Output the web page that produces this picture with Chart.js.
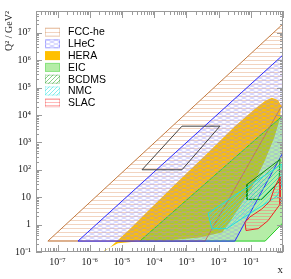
<!DOCTYPE html>
<html>
<head>
<meta charset="utf-8">
<script src="https://cdn.jsdelivr.net/npm/chart.js@4.4.1/dist/chart.umd.min.js"></script>
<style>
  html, body { margin: 0; padding: 0; background: #fff; }
</style>
</head>
<body>
<canvas id="chart" width="291" height="279"></canvas>
<script>
// axis ticks
const xTicks = [1e-7, 1e-6, 1e-5, 1e-4, 1e-3, 1e-2, 1e-1];
const yTicks = [0.1, 1, 10, 1e2, 1e3, 1e4, 1e5, 1e6, 1e7];

// kinematic regions, polygon corners in (x, Q2)
const fccX   = [5.0e-8, 1, 1, 3.8e-3];
const fccQ2  = [0.25, 2.1e7, 2.6e4, 0.25];
const lhecX  = [4.3e-7, 1, 1, 0.032];
const lhecQ2 = [0.25, 1.55e6, 430, 0.25];
const heraX  = [1.45e-6, 4.3e-6, 1.8e-5, 7.4e-5, 4.4e-4, 3.8e-3, 0.032, 0.135, 0.28, 0.45, 0.70, 0.87,
                0.81, 0.53, 0.26, 0.11, 0.046, 0.022, 0.013, 2.6e-3, 3.1e-4, 3.6e-5, 7.5e-6, 3.0e-6];
const heraQ2 = [0.061, 0.15, 0.71, 3.7, 29, 330, 3900, 1.7e4, 3.3e4, 4.2e4, 3.5e4, 2.2e4,
                7600, 1450, 190, 24, 4.7, 1.2, 0.52, 0.34, 0.27, 0.245, 0.21, 0.118];
const eicX   = [3.6e-5, 1, 1, 0.28];
const eicQ2  = [0.25, 9600, 1.17, 0.25];
const bcdmsX  = [0.076, 0.076, 0.22, 0.75, 0.81];
const bcdmsQ2 = [29, 8.3, 8.3, 36, 240];
const nmcX   = [4.7e-3, 6.2e-3, 0.018, 0.057, 0.156, 0.65, 0.93, 0.93, 0.39];
const nmcQ2  = [2.6, 0.71, 0.71, 1.76, 3.7, 10.7, 29, 160, 83];
const slacX  = [0.81, 0.81, 0.34, 0.17, 0.071, 0.066, 0.094, 0.22, 0.39, 0.56];
const slacQ2 = [55, 5.5, 1.38, 0.71, 0.61, 1.2, 1.9, 3.7, 7.1, 24];
const boxX   = [4.2e-5, 7.3e-4, 0.011, 7.3e-4];
const boxQ2  = [100, 100, 3900, 3900];

const canvas = document.getElementById('chart');
const ctx = canvas.getContext('2d');

function polygon(xs, qs) {
  const pts = xs.map((x, i) => ({ x: x, y: qs[i] }));
  pts.push(pts[0]);
  return pts;
}

function hatch(w, h, color, draw) {
  const c = document.createElement('canvas');
  c.width = w; c.height = h;
  const g = c.getContext('2d');
  g.strokeStyle = color;
  g.lineWidth = 1;
  g.beginPath();
  draw(g, w, h);
  g.stroke();
  return ctx.createPattern(c, 'repeat');
}

const horiz = (g, w, h) => { g.moveTo(0, 0.5); g.lineTo(w, 0.5); };
const diag = (g, w, h) => { g.moveTo(0, h); g.lineTo(w, 0); g.moveTo(-1, 1); g.lineTo(1, -1); g.moveTo(w - 1, h + 1); g.lineTo(w + 1, h - 1); };
const mesh = (g, w, h) => { g.moveTo(0, 0); g.lineTo(w, h); g.moveTo(0, h); g.lineTo(w, 0); };

const fccFill   = hatch(4, 4, 'rgba(226,160,115,0.45)', horiz);
const lhecFill  = hatch(8, 4, 'rgba(140,140,255,0.4)', mesh);
const bcdmsFill = hatch(4, 4, 'rgba(60,180,60,0.6)', diag);
const nmcFill   = hatch(4, 4, 'rgba(60,225,225,0.6)', diag);
const slacFill  = hatch(3, 3, 'rgba(255,120,120,0.5)', horiz);

function region(label, xs, qs, border, fill, order, extra) {
  return Object.assign({
    label: label,
    data: polygon(xs, qs),
    showLine: true,
    fill: 'shape',
    borderColor: border,
    backgroundColor: fill,
    borderWidth: 1,
    pointRadius: 0,
    tension: 0,
    order: order
  }, extra || {});
}

const datasets = [
  region('FCC-he', fccX, fccQ2, '#c27a40', fccFill, 6),
  region('LHeC', lhecX, lhecQ2, '#2a2aff', lhecFill, 5),
  region('HERA', heraX, heraQ2, 'rgba(0,0,0,0)', '#ffc000', 8, { borderWidth: 0, clip: false }),
  region('EIC', eicX, eicQ2, '#22cc22', 'rgba(90,215,60,0.45)', 7),
  region('BCDMS', bcdmsX, bcdmsQ2, '#108a10', bcdmsFill, 4),
  region('NMC', nmcX, nmcQ2, '#20e0e0', nmcFill, 3),
  region('SLAC', slacX, slacQ2, '#ee2020', slacFill, 2),
  region('', boxX, boxQ2, '#404040', 'rgba(0,0,0,0)', 1)
];

const sup = { '-': '\u207B', '0': '\u2070', '1': '\u00B9', '2': '\u00B2', '3': '\u00B3', '4': '\u2074', '5': '\u2075', '6': '\u2076', '7': '\u2077', '8': '\u2078', '9': '\u2079' };
function powLabel(v) {
  const e = Math.round(Math.log10(v));
  if (e === 0) return '1';
  if (e === 1) return '10';
  return '10' + String(e).split('').map(c => sup[c]).join('');
}

// ROOT-style frame with inward ticks and the x title in the corner
const rootFrame = {
  id: 'rootFrame',
  afterDraw(chart) {
    const { ctx, chartArea: a, scales: { x, y } } = chart;
    ctx.save();
    ctx.strokeStyle = '#9a9a9a';
    ctx.lineWidth = 1;
    ctx.strokeRect(a.left + 0.5, a.top + 0.5, a.right - a.left - 1, a.bottom - a.top - 1);
    ctx.beginPath();
    for (let e = -9; e <= 0; e++) {
      for (let m = 1; m < 10; m++) {
        const v = m * Math.pow(10, e);
        if (v >= x.min && v <= x.max) {
          const px = Math.round(x.getPixelForValue(v)) + 0.5;
          const len = m === 1 ? 7 : 4;
          ctx.moveTo(px, a.bottom); ctx.lineTo(px, a.bottom - len);
          ctx.moveTo(px, a.top); ctx.lineTo(px, a.top + len);
        }
      }
    }
    for (let e = -1; e <= 8; e++) {
      for (let m = 1; m < 10; m++) {
        const v = m * Math.pow(10, e);
        if (v >= y.min && v <= y.max) {
          const py = Math.round(y.getPixelForValue(v)) + 0.5;
          const len = m === 1 ? 6 : 3;
          ctx.moveTo(a.left, py); ctx.lineTo(a.left + len, py);
          ctx.moveTo(a.right, py); ctx.lineTo(a.right - len, py);
        }
      }
    }
    ctx.stroke();
    ctx.fillStyle = '#222';
    ctx.font = '11px "Liberation Serif", "Times New Roman", serif';
    ctx.textAlign = 'right';
    ctx.textBaseline = 'middle';
    ctx.fillText('x', a.right, 270);
    ctx.restore();
  }
};

// legend box in the upper left of the frame
const rootLegend = {
  id: 'rootLegend',
  afterDraw(chart) {
    const { ctx } = chart;
    ctx.save();
    ctx.font = '10.5px "Liberation Sans", Arial, sans-serif';
    ctx.textBaseline = 'middle';
    chart.data.datasets.forEach((ds, i) => {
      if (!ds.label) return;
      const cy = 32 + i * 11.8;
      ctx.fillStyle = ds.backgroundColor;
      ctx.fillRect(45, cy - 4.5, 15, 9);
      ctx.strokeStyle = ds.label === 'HERA' ? '#ffc000' : ds.borderColor;
      ctx.globalAlpha = 0.3;
      ctx.strokeRect(45.5, cy - 4, 14, 8);
      ctx.globalAlpha = 1;
      ctx.fillStyle = '#000';
      ctx.fillText(ds.label, 68, cy + 0.5);
    });
    ctx.restore();
  }
};

const tickFont = { family: '"Liberation Serif", "Times New Roman", serif', size: 10 };

new Chart(ctx, {
  type: 'scatter',
  data: { datasets: datasets },
  options: {
    responsive: false,
    animation: false,
    layout: { padding: { left: 0, top: 5, right: 8, bottom: 0 } },
    plugins: { legend: { display: false }, tooltip: { enabled: false } },
    scales: {
      x: {
        type: 'logarithmic',
        min: 2.14e-8,
        max: 1,
        afterBuildTicks: s => { s.ticks = xTicks.map(v => ({ value: v })); },
        afterFit: s => { s.height = 27; },
        grid: { display: false, drawTicks: false },
        border: { display: false },
        ticks: { callback: v => powLabel(v), font: tickFont, color: '#222', padding: 4, maxRotation: 0, autoSkip: false }
      },
      y: {
        type: 'logarithmic',
        min: 0.1,
        max: 6.2e7,
        afterBuildTicks: s => { s.ticks = yTicks.map(v => ({ value: v })); },
        afterFit: s => { s.width = 36; },
        grid: { display: false, drawTicks: false },
        border: { display: false },
        ticks: { callback: v => powLabel(v), font: tickFont, color: '#222', padding: 5, autoSkip: false },
        title: { display: true, text: 'Q\u00B2 / GeV\u00B2', align: 'end', color: '#222', font: { family: tickFont.family, size: 10 }, padding: { top: 3, bottom: 0 } }
      }
    }
  },
  plugins: [rootFrame, rootLegend]
});
</script>
</body>
</html>
